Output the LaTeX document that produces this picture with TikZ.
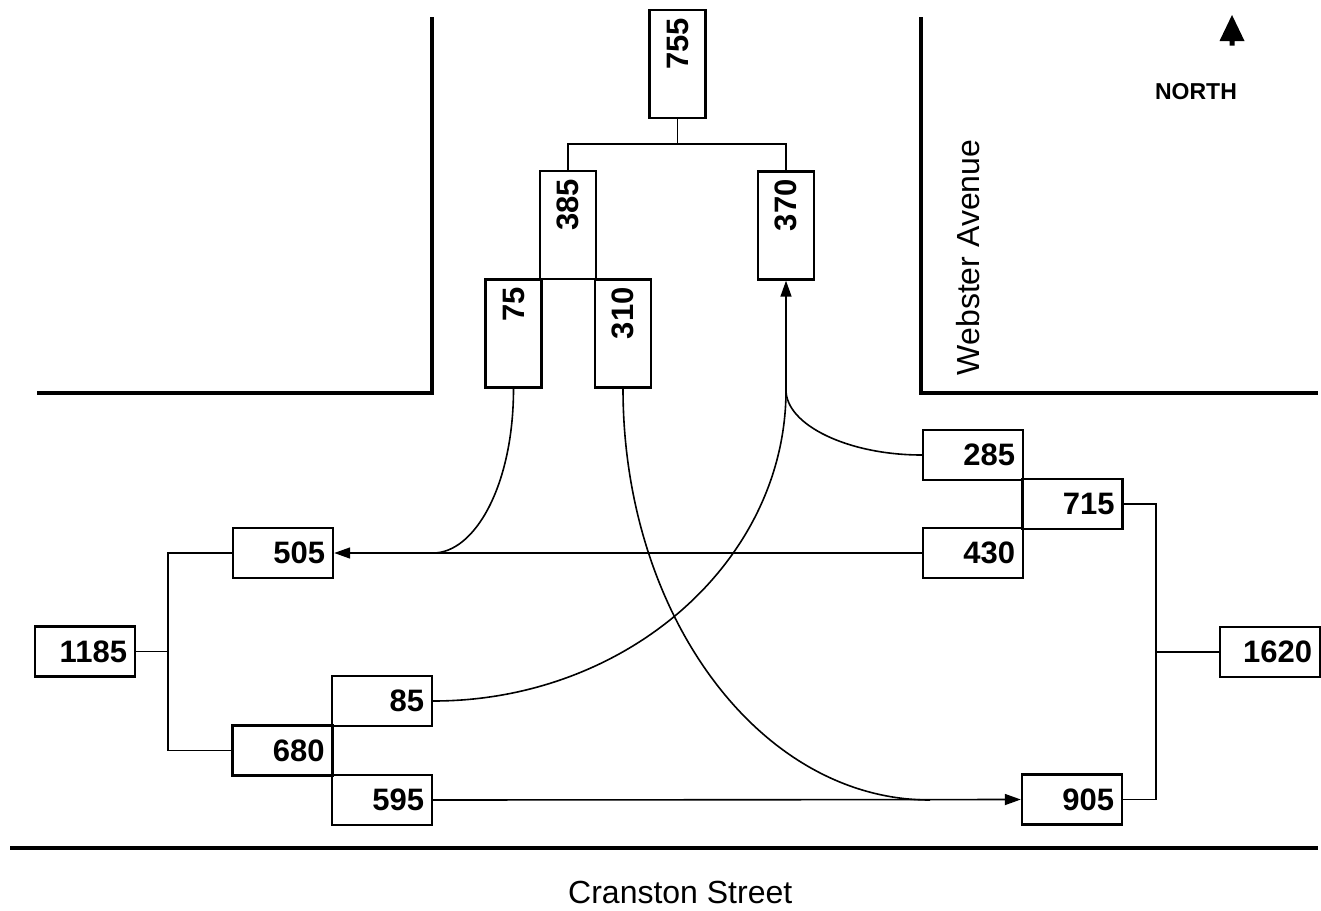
\documentclass[tikz,border=0pt]{standalone}
\usepackage{fontspec}
\setmainfont{Liberation Sans}
\usetikzlibrary{arrows.meta}
\begin{document}
\begin{tikzpicture}[x=1pt,y=-1pt,
  box/.style={draw,line width=2.4pt,inner xsep=8pt,align=right,font=\fontsize{31}{31}\selectfont\bfseries},
  hbox/.style={box,minimum width=100pt,minimum height=50pt,text width=84pt},
  vbox/.style={box,rotate=90,minimum width=108pt,minimum height=56pt,text width=92pt},
  road/.style={line width=3.4pt},
  link/.style={line width=1.6pt},
  arr/.style={link,-{Triangle[length=16pt,width=11pt]}}]
\useasboundingbox (0,0) rectangle (1321,910);

% roads
\draw[road] (432,17) -- (432,393) -- (37,393);
\draw[road] (921,17) -- (921,393) -- (1318,393);
\draw[road] (10,848) -- (1318,848);

% vertical boxes
\node[vbox] (n755) at (677.5,64) {755};
\node[vbox] (n385) at (568,225) {385};
\node[vbox] (n370) at (786,225.5) {370};
\node[vbox] (n75) at (513.5,333.5) {75};
\node[vbox] (n310) at (623,333.5) {310};

% horizontal boxes
\node[hbox] (n505) at (283,553) {505};
\node[hbox] (n285) at (973,455) {285};
\node[hbox] (n715) at (1072.5,504) {715};
\node[hbox] (n430) at (973,553) {430};
\node[hbox] (n1185) at (85,651.5) {1185};
\node[hbox] (n85) at (382,701) {85};
\node[hbox] (n680) at (282.5,750.5) {680};
\node[hbox] (n595) at (382,800) {595};
\node[hbox] (n1620) at (1270,652) {1620};
\node[hbox] (n905) at (1072,799.5) {905};

% tree connectors
\coordinate (t1) at (677.5,144);
\draw[link] (n755.west) -- (t1);
\draw[link] (n385.east) |- (t1) -| (n370.east);

\coordinate (l1) at (168,651.5);
\draw[link] (n505.west) -| (l1) |- (n680.west);
\draw[link] (n1185.east) -- (l1);

\coordinate (r1) at (1156,652);
\draw[link] (n715.east) -| (r1) |- (n905.east);
\draw[link] (n1620.west) -- (r1);

% flows
\draw[arr] (n430.west) -- (n505.east);
\draw[arr] (n595.east) -- (n905.west);
\coordinate (j370) at (786,390);
\draw[arr] (j370) -- (n370.west);

\coordinate (j75) at (433,553);
\draw[link] (n75.west) .. controls (513.5,485) and (475,553) .. (j75);
\coordinate (j310) at (930,800);
\draw[link] (n310.west) .. controls (623,614) and (759,800) .. (j310);
\draw[link] (n85.east) .. controls (627,701) and (786,561) .. (j370);
\draw[link] (n285.west) .. controls (848,455) and (786,425) .. (j370);

% labels
\node[font=\fontsize{32}{32}\selectfont, inner sep=0, anchor=west] (cranston) at (568,892) {Cranston Street};
\node[rotate=90, font=\fontsize{32}{32}\selectfont, inner sep=0] (webster) at (968.5,257.5) {Webster Avenue};
\node[font=\fontsize{23}{23}\selectfont\bfseries, inner sep=0] (north) at (1196,92) {NORTH};
\fill (1232,15) -- (1244.5,41) -- (1234.5,41) -- (1234.5,45.5) -- (1229.5,45.5) -- (1229.5,41) -- (1219.5,41) -- cycle;
\end{tikzpicture}
\end{document}
